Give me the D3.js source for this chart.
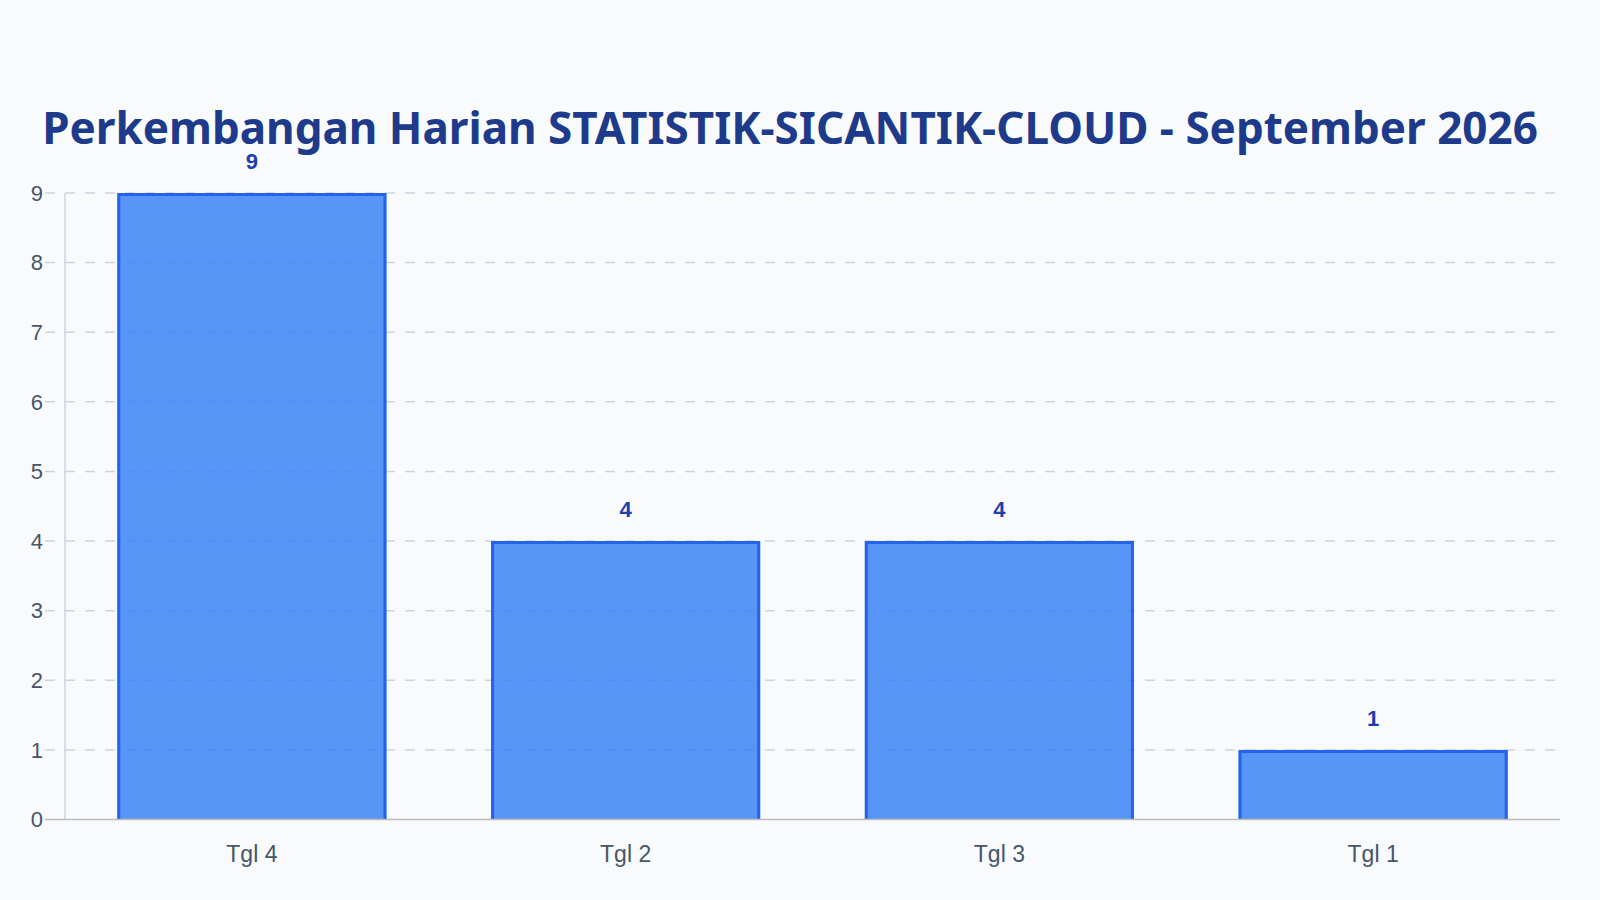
<!DOCTYPE html>
<html>
<head>
<meta charset="utf-8">
<script src="https://cdn.jsdelivr.net/npm/d3@7"></script>
<style>
  html, body { margin: 0; padding: 0; background: #f8fafc; }
  svg { display: block; }
</style>
</head>
<body>
<div id="chart-container"></div>
<script>
// Data
const categories = ["Tgl 4", "Tgl 2", "Tgl 3", "Tgl 1"];
const values = [9, 4, 4, 1];
const yTicks = [0, 1, 2, 3, 4, 5, 6, 7, 8, 9];
const chartTitle = "Perkembangan Harian STATISTIK-SICANTIK-CLOUD - September 2026";

// Dimensions
const W = 1600, H = 900;
const plot = { left: 65, right: 1560, top: 193, bottom: 819.5 };

const svg = d3.select("#chart-container")
  .append("svg")
  .attr("width", W)
  .attr("height", H);

svg.append("rect")
  .attr("width", W)
  .attr("height", H)
  .attr("fill", "#f8fafc");

// Scales
const x = d3.scaleBand()
  .domain(categories)
  .range([plot.left, plot.right])
  .paddingInner(0.28)
  .paddingOuter(0.14);

const y = d3.scaleLinear()
  .domain([0, 9])
  .range([plot.bottom, plot.top]);

// Horizontal gridlines (dashed, start left of the axis like tick marks)
svg.append("g")
  .selectAll("line")
  .data(yTicks.filter(d => d > 0))
  .enter().append("line")
  .attr("x1", 45)
  .attr("x2", plot.right - 4)
  .attr("y1", d => y(d))
  .attr("y2", d => y(d))
  .attr("stroke", "#cbd5e1")
  .attr("stroke-width", 1.5)
  .attr("stroke-dasharray", "10,10");

// Y axis line
svg.append("line")
  .attr("x1", plot.left)
  .attr("x2", plot.left)
  .attr("y1", plot.top)
  .attr("y2", plot.bottom)
  .attr("stroke", "#cbd5e1")
  .attr("stroke-width", 1.5);

// Y tick labels
svg.append("g")
  .selectAll("text")
  .data(yTicks)
  .enter().append("text")
  .attr("x", 43)
  .attr("y", d => y(d))
  .attr("dy", "0.35em")
  .attr("text-anchor", "end")
  .style("font-family", "'Liberation Sans', Arial, sans-serif")
  .style("font-size", "22px")
  .style("fill", "#475569")
  .text(d => d);

// Bars
const bars = svg.append("g")
  .selectAll("g")
  .data(values)
  .enter().append("g");

bars.append("rect")
  .attr("x", (d, i) => x(categories[i]))
  .attr("y", d => y(d))
  .attr("width", x.bandwidth())
  .attr("height", d => y(0) - y(d))
  .attr("fill", "rgba(59,130,246,0.85)");

// border on left, top and right only
bars.append("path")
  .attr("d", (d, i) => {
    const x0 = x(categories[i]) + 1.5;
    const x1 = x(categories[i]) + x.bandwidth() - 1.5;
    const yt = y(d) + 1.5;
    const yb = y(0);
    return `M${x0},${yb}V${yt}H${x1}V${yb}`;
  })
  .attr("fill", "none")
  .attr("stroke", "#2563eb")
  .attr("stroke-width", 3);

// Value labels
bars.append("text")
  .attr("x", (d, i) => x(categories[i]) + x.bandwidth() / 2)
  .attr("y", d => y(d) - 24)
  .attr("text-anchor", "middle")
  .style("font-family", "'Liberation Sans', Arial, sans-serif")
  .style("font-size", "22px")
  .style("font-weight", "bold")
  .style("fill", "#1e40af")
  .text(d => d);

// X axis line
svg.append("line")
  .attr("x1", 45)
  .attr("x2", plot.right)
  .attr("y1", plot.bottom)
  .attr("y2", plot.bottom)
  .attr("stroke", "#bdbdbd")
  .attr("stroke-width", 1.5);

// X tick labels
svg.append("g")
  .selectAll("text")
  .data(categories)
  .enter().append("text")
  .attr("x", d => x(d) + x.bandwidth() / 2)
  .attr("y", 862)
  .attr("text-anchor", "middle")
  .style("font-family", "'Liberation Sans', Arial, sans-serif")
  .style("font-size", "23px")
  .style("fill", "#475569")
  .text(d => d);

// Title
svg.append("text")
  .attr("x", 790)
  .attr("y", 144)
  .attr("text-anchor", "middle")
  .style("font-family", "'Noto Sans', 'Open Sans', sans-serif")
  .style("font-size", "44px")
  .style("font-weight", "bold")
  .style("fill", "#1e3a8a")
  .text(chartTitle);
</script>
</body>
</html>
